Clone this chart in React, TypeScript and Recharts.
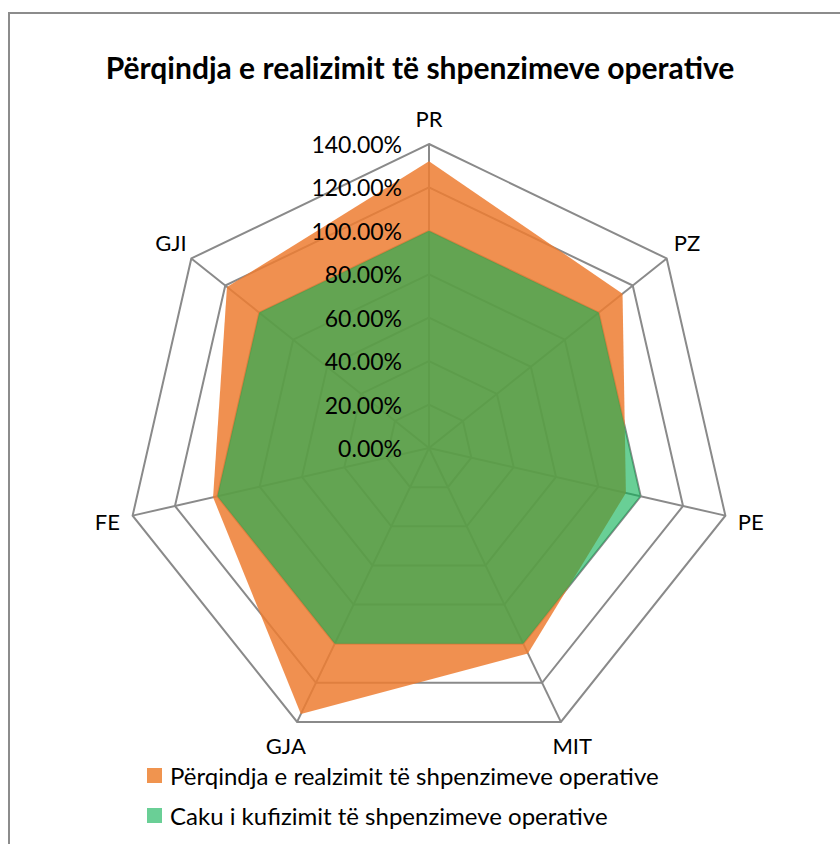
import React from 'react'
import { RadarChart, Radar, PolarGrid, PolarAngleAxis, PolarRadiusAxis } from 'recharts'

const categories = ['PR', 'PZ', 'PE', 'MIT', 'GJA', 'FE', 'GJI']
const realizimi = [1.32, 1.14, 0.93, 1.05, 1.36, 1.02, 1.19]
const caku = [1, 1, 1, 1, 1, 1, 1]
const radiusTicks = [0, 0.2, 0.4, 0.6, 0.8, 1.0, 1.2, 1.4]
const seriesNames = [
  'Përqindja e realzimit të shpenzimeve operative',
  'Caku i kufizimit të shpenzimeve operative',
]
const title = 'Përqindja e realizimit të shpenzimeve operative'

const data = categories.map((c, i) => ({ name: c, realizimi: realizimi[i], caku: caku[i] }))

const FONT = 'Lato, "Open Sans", sans-serif'
const CX = 429
const CY = 448
const R = 304
const GRID = '#8a8a8a'
const ORANGE = '#ED7D31'
const GREEN = 'rgb(10,176,83)'

const AngleTick = (props: any) => {
  const angle = props.payload.coordinate
  const rad = (-angle * Math.PI) / 180
  const x = CX + Math.cos(rad) * 330
  const y = CY + Math.sin(rad) * 330
  return (
    <text x={x} y={y} textAnchor="middle" dominantBaseline="central" fontSize={22} fontFamily={FONT} fill="#000">
      {props.payload.value}
    </text>
  )
}

const RadiusTick = (props: any) => {
  const { x, y, payload } = props
  return (
    <text x={x - 27} y={y} textAnchor="end" dominantBaseline="central" fontSize={23} fontFamily={FONT} fill="#000">
      {(payload.value * 100).toFixed(2) + '%'}
    </text>
  )
}

export default function App() {
  return (
    <div style={{ position: 'absolute', left: 0, top: 0, width: 840, height: 844, overflow: 'hidden', background: '#fff', fontFamily: FONT }}>
      <div style={{ position: 'absolute', left: 8, top: 12, width: 900, height: 900, border: '2px solid #8c8c8c', boxSizing: 'border-box' }} />
      <div style={{ position: 'absolute', left: 0, top: 49, width: 840, textAlign: 'center', fontWeight: 700, fontSize: 30, lineHeight: '36px', color: '#000' }}>
        {title}
      </div>
      <div style={{ position: 'absolute', left: 0, top: 0 }}>
        <RadarChart width={840} height={760} data={data} cx={CX} cy={CY} outerRadius={R} startAngle={90} endAngle={-270}>
          <PolarGrid gridType="polygon" radialLines={false} stroke={GRID} strokeWidth={2} />
          <Radar dataKey="realizimi" name={seriesNames[0]} fill={ORANGE} fillOpacity={0.85} stroke="none" isAnimationActive={false} />
          <Radar dataKey="caku" name={seriesNames[1]} fill={GREEN} fillOpacity={0.61} stroke="none" isAnimationActive={false} />
          <PolarGrid gridType="polygon" polarRadius={[]} radialLines={true} stroke={GRID} strokeWidth={2} />
          <PolarAngleAxis dataKey="name" tick={AngleTick} tickLine={false} axisLine={false} />
          <PolarRadiusAxis type="number" domain={[0, 1.4]} ticks={radiusTicks} angle={90} axisLine={false} tickLine={false} tick={RadiusTick} />
        </RadarChart>
      </div>
      {seriesNames.map((n, i) => (
        <div key={n} style={{ position: 'absolute', left: 147, top: 763 + i * 40, height: 24, display: 'flex', alignItems: 'center' }}>
          <div style={{ width: 15, height: 15, background: i === 0 ? '#F0944F' : '#6ACF96', marginRight: 8 }} />
          <span style={{ fontSize: 24, color: '#000', whiteSpace: 'nowrap' }}>{n}</span>
        </div>
      ))}
    </div>
  )
}
